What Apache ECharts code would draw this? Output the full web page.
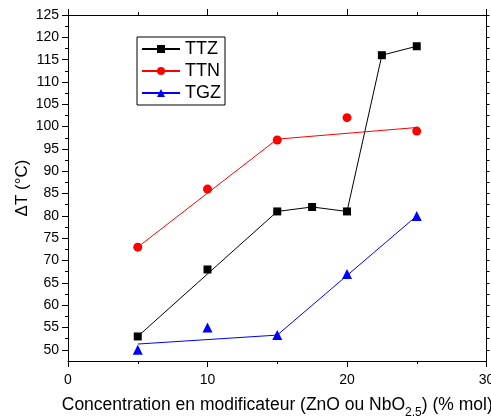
<!DOCTYPE html>
<html lang="fr">
<head>
<meta charset="UTF-8">
<title>Delta T</title>
<script src="https://cdn.jsdelivr.net/npm/echarts@6/dist/echarts.min.js"></script>
<style>
    html, body { margin: 0; padding: 0; background: #fff; }
    #main { width: 491px; height: 418px; }
</style>
</head>
<body>
<div id="main"></div>
<script>
    // points mesurés
    var ttzX = [5, 10, 15, 17.5, 20, 22.5, 25];
    var ttzY = [53, 68, 81, 82, 81, 116, 118];
    var ttnX = [5, 10, 15, 20, 25];
    var ttnY = [73, 86, 97, 102, 99];
    var tgzX = [5, 10, 15, 20, 25];
    var tgzY = [50, 55, 53.3, 67, 80];

    // tracés (segments)
    var ttzLineX = [5, 15, 17.5, 20, 22.5, 25];
    var ttzLineY = [53, 81, 82, 81, 116, 118];
    var ttnLineX = [5, 15, 25];
    var ttnLineY = [73, 97.2, 99.8];
    var tgzLineX = [5, 15, 25];
    var tgzLineY = [51.3, 53.3, 80];

    // graduations y
    var yMajor = [50, 55, 60, 65, 70, 75, 80, 85, 90, 95, 100, 105, 110, 115, 120, 125];
    var yMinor = [52.5, 57.5, 62.5, 67.5, 72.5, 77.5, 82.5, 87.5, 92.5, 97.5, 102.5, 107.5, 112.5, 117.5, 122.5];

    function pairs(xs, ys) {
        var out = [];
        for (var i = 0; i < xs.length; i++) out.push([xs[i], ys[i]]);
        return out;
    }

    var font = "'Liberation Sans', Arial, sans-serif";
    var chart = echarts.init(document.getElementById('main'));

    var xBase = {
        type: 'value', min: 0, max: 30, interval: 10,
        axisLine: { show: true, onZero: false, lineStyle: { color: '#000', width: 1 } },
        axisTick: { show: true, inside: false, length: 6, lineStyle: { color: '#000' } },
        minorTick: { show: true, splitNumber: 2, length: 3, lineStyle: { color: '#000' } },
        splitLine: { show: false }
    };
    var yBase = {
        type: 'value', min: 47.5, max: 125, interval: 2.5,
        axisLine: { show: true, onZero: false, lineStyle: { color: '#000', width: 1 } },
        splitLine: { show: false }
    };

    var option = {
        animation: false,
        backgroundColor: '#fff',
        grid: { left: 68, right: 4.5, top: 15, bottom: 57, outerBoundsMode: 'none' },
        legend: {
            data: ['TTZ', 'TTN', 'TGZ'],
            orient: 'vertical',
            left: 137, top: 37,
            padding: [3, 4, 3, 4],
            itemGap: 4,
            itemWidth: 38,
            itemHeight: 10,
            borderColor: '#000',
            borderWidth: 1,
            backgroundColor: '#fff',
            textStyle: { fontSize: 18, color: '#000', fontFamily: font }
        },
        xAxis: [
            Object.assign({}, xBase, {
                position: 'bottom',
                name: 'Concentration en modificateur (ZnO ou NbO{sub|2.5}) (% mol)',
                nameLocation: 'middle',
                nameGap: 30,
                nameMoveOverlap: false,
                nameTextStyle: {
                    fontSize: 17.5, color: '#000', fontFamily: font,
                    rich: { sub: { fontSize: 12, color: '#000', fontFamily: font, padding: [16, 0, 0, 0] } }
                },
                axisLabel: { show: true, margin: 12, fontSize: 14, color: '#000', fontFamily: font }
            }),
            Object.assign({}, xBase, { position: 'top', axisLabel: { show: false } })
        ],
        yAxis: [
            Object.assign({}, yBase, {
                position: 'left',
                name: 'ΔT (°C)',
                nameLocation: 'middle',
                nameGap: 37,
                nameMoveOverlap: false,
                nameTextStyle: { fontSize: 17, color: '#000', fontFamily: font },
                axisTick: { show: true, length: 6, customValues: yMajor, lineStyle: { color: '#000' } },
                axisLabel: { show: true, margin: 9, customValues: yMajor, fontSize: 14, color: '#000', fontFamily: font }
            }),
            Object.assign({}, yBase, {
                position: 'left',
                axisLine: { show: false },
                axisTick: { show: true, length: 3, customValues: yMinor, lineStyle: { color: '#000' } },
                axisLabel: { show: false }
            }),
            Object.assign({}, yBase, {
                position: 'right',
                axisTick: { show: true, length: 3, customValues: yMajor.concat(yMinor), lineStyle: { color: '#000' } },
                axisLabel: { show: false }
            })
        ],
        series: [
            {
                name: 'TTZ', type: 'line', symbol: 'rect', showSymbol: false,
                data: pairs(ttzLineX, ttzLineY),
                itemStyle: { color: '#000' }, lineStyle: { color: '#000', width: 1 }
            },
            {
                name: 'TTN', type: 'line', symbol: 'circle', showSymbol: false,
                data: pairs(ttnLineX, ttnLineY),
                itemStyle: { color: '#ff0000' }, lineStyle: { color: '#ff0000', width: 1 }
            },
            {
                name: 'TGZ', type: 'line', symbol: 'triangle', showSymbol: false,
                data: pairs(tgzLineX, tgzLineY),
                itemStyle: { color: '#0000ff' }, lineStyle: { color: '#0000ff', width: 1 }
            },
            {
                name: 'TTZ pts', type: 'scatter', symbol: 'rect', symbolSize: 8,
                data: pairs(ttzX, ttzY), itemStyle: { color: '#000', opacity: 1 }
            },
            {
                name: 'TTN pts', type: 'scatter', symbol: 'circle', symbolSize: 9,
                data: pairs(ttnX, ttnY), itemStyle: { color: '#ff0000', opacity: 1 }
            },
            {
                name: 'TGZ pts', type: 'scatter', symbol: 'triangle', symbolSize: 10,
                data: pairs(tgzX, tgzY), itemStyle: { color: '#0000ff', opacity: 1 }
            }
        ]
    };
    chart.setOption(option);
</script>
</body>
</html>
